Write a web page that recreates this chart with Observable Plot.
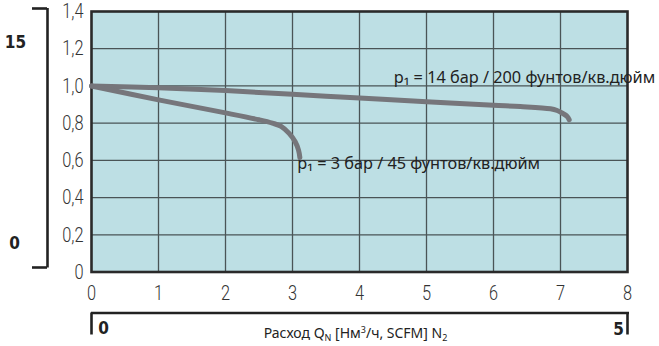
<!DOCTYPE html>
<html><head><meta charset="utf-8">
<script src="https://cdn.jsdelivr.net/npm/d3@7"></script>
<script src="https://cdn.jsdelivr.net/npm/@observablehq/plot@0.6"></script>
<style>
body{margin:0;background:#fff;}
#chart svg{display:block;overflow:visible;}
</style></head><body><div id="chart"></div>
<script>
// Ticks
const xTicks = [0, 1, 2, 3, 4, 5, 6, 7, 8];
const xTickLabels = ["0", "1", "2", "3", "4", "5", "6", "7", "8"];
const yTicks = [0, 0.2, 0.4, 0.6, 0.8, 1.0, 1.2, 1.4];
const yTickLabels = ["0", "0,2", "0,4", "0,6", "0,8", "1,0", "1,2", "1,4"];
const psiLabels = ["15", "0"];
const scfmLabels = ["0", "5"];
const axisTitle = "Расход Q|N| [Нм|3|/ч, SCFM] N|2|";

// Series: p1 = 14 bar
const flow14 = [0, 1, 2, 3, 4, 5, 6, 6.4, 6.85, 6.95, 7.0, 7.1, 7.13];
const ratio14 = [1.0, 0.99, 0.975, 0.955, 0.935, 0.915, 0.896, 0.889, 0.877, 0.868, 0.859, 0.836, 0.818];
// Series: p1 = 3 bar
const flow3 = [0, 1, 2, 2.5, 2.7, 2.83, 2.95, 3.04, 3.09, 3.11];
const ratio3 = [1.0, 0.925, 0.855, 0.818, 0.8, 0.783, 0.745, 0.7, 0.655, 0.615];

const seriesLabels = ["p₁ = 14 бар / 200 фунтов/кв.дюйм", "p₁ = 3 бар / 45 фунтов/кв.дюйм"];
const labelX = [4.51, 3.07];
const labelY = [1.014, 0.551];

const s14 = flow14.map((x, i) => ({x, y: ratio14[i]}));
const s3 = flow3.map((x, i) => ({x, y: ratio3[i]}));
const labels = seriesLabels.map((t, i) => ({t, x: labelX[i], y: labelY[i]}));
const yFmt = new Map(yTicks.map((v, i) => [v, yTickLabels[i]]));
const xFmt = new Map(xTicks.map((v, i) => [v, xTickLabels[i]]));

const thin = "Roboto, 'Noto Sans', sans-serif";
const narrow = "'Liberation Sans Narrow', 'DejaVu Sans Condensed', 'Roboto Condensed', sans-serif";
const regular = "'Noto Sans', 'Open Sans', sans-serif";
const bracket = "#222";

const chart = Plot.plot({
  width: 659, height: 346,
  marginLeft: 91, marginRight: 32, marginTop: 11, marginBottom: 74.5,
  style: {background: "transparent", overflow: "visible"},
  x: {domain: [0, 8]},
  y: {domain: [0, 1.4]},
  marks: [
    Plot.frame({fill: "#bddfe4"}),
    Plot.ruleX(xTicks.slice(1, -1), {stroke: "#4a5456", strokeWidth: 1.3}),
    Plot.ruleY(yTicks.slice(1, -1), {stroke: "#4a5456", strokeWidth: 1.3}),
    Plot.frame({stroke: "#2a2a2a", strokeWidth: 2.6}),
    Plot.axisX(xTicks, {tickSize: 0, tickPadding: 13, tickFormat: d => xFmt.get(d), fontSize: 21, fontWeight: 300, fontFamily: thin, fill: "#333", label: null}),
    Plot.axisY(yTicks, {tickSize: 0, tickPadding: 8, tickFormat: d => yFmt.get(d), fontSize: 21, fontWeight: 300, fontFamily: thin, fill: "#333", label: null}),
    // curves
    Plot.line(s14, {x: "x", y: "y", curve: "catmull-rom", stroke: "#76767b", strokeWidth: 5, strokeLinecap: "round"}),
    Plot.line(s3, {x: "x", y: "y", curve: "catmull-rom", stroke: "#76767b", strokeWidth: 5, strokeLinecap: "round"}),
    Plot.text(labels, {x: "x", y: "y", text: "t", textAnchor: "start", lineAnchor: "bottom", fontSize: 16.3, fontFamily: regular, fill: "#222"}),
    // left bracket (psi)
    Plot.ruleX([0], {y1: 1.4, y2: 0, dx: -44, insetTop: -3, insetBottom: 4, stroke: bracket, strokeWidth: 2.6}),
    Plot.ruleY([1.4], {x1: 0, x2: 0, dx: -44, dy: -3, insetLeft: -15, stroke: bracket, strokeWidth: 2.6}),
    Plot.ruleY([0], {x1: 0, x2: 0, dx: -44, dy: -4.5, insetLeft: -15, stroke: bracket, strokeWidth: 2.6}),
    Plot.text([psiLabels[0]], {frameAnchor: "top-left", dx: -76, dy: 31, textAnchor: "middle", lineAnchor: "middle", fontSize: 17, fontWeight: "bold", fontFamily: narrow, fill: "#222"}),
    Plot.text([psiLabels[1]], {frameAnchor: "bottom-left", dx: -77, dy: -28, textAnchor: "middle", lineAnchor: "middle", fontSize: 17, fontWeight: "bold", fontFamily: narrow, fill: "#222"}),
    // bottom bracket (SCFM)
    Plot.ruleY([0], {x1: 0, x2: 8, dy: 41, insetRight: -2, stroke: bracket, strokeWidth: 2.6}),
    Plot.ruleX([0, 8], {y1: 0, y2: 0, dy: 41, dx: 0, insetBottom: -22, stroke: bracket, strokeWidth: 2.6}),
    Plot.text([scfmLabels[0]], {frameAnchor: "bottom-left", dx: 12, dy: 62, textAnchor: "middle", lineAnchor: "bottom", fontSize: 17, fontWeight: "bold", fontFamily: narrow, fill: "#222"}),
    Plot.text([scfmLabels[1]], {frameAnchor: "bottom-right", dx: -9, dy: 63, textAnchor: "middle", lineAnchor: "bottom", fontSize: 17, fontWeight: "bold", fontFamily: narrow, fill: "#222"}),
    Plot.text([axisTitle], {frameAnchor: "bottom", dx: -4, dy: 66, textAnchor: "middle", lineAnchor: "bottom", fontSize: 14, fontFamily: regular, fill: "#222"})
  ]
});
document.getElementById("chart").appendChild(chart);

// condense tick labels horizontally (reference uses a condensed face)
d3.select(chart).selectAll('g[aria-label="x-axis tick label"] text, g[aria-label="y-axis tick label"] text').each(function() {
  const t = this.getAttribute("transform") || "";
  this.setAttribute("transform", t + " scale(0.78,1)");
});

// rich text for the axis title: |x| segments alternate sub/sup
d3.select(chart).selectAll("text").each(function() {
  const el = d3.select(this);
  const txt = el.text();
  if (txt !== axisTitle) return;
  const parts = txt.split("|");
  el.text(null);
  const kinds = ["sub", "sup", "sub"];
  let k = 0, pending = 0;
  parts.forEach((p, i) => {
    if (i % 2 === 0) {
      if (!p) return;
      const ts = el.append("tspan").text(p);
      if (pending) { ts.attr("dy", pending); pending = 0; }
    } else {
      const kind = kinds[k++];
      const off = kind === "sub" ? 3 : -5;
      el.append("tspan").attr("font-size", 9).attr("dy", off + pending).text(p);
      pending = -off;
    }
  });
});
</script>
</body></html>
